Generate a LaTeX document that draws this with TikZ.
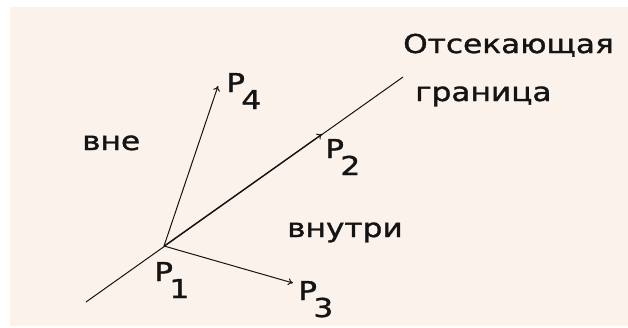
\documentclass[tikz,border=0pt]{standalone}
\usepackage{fontspec}
\setmainfont{DejaVu Sans}
\newfontfamily\lblfont{DejaVu Sans}[FakeBold=1.2]
\usetikzlibrary{arrows.meta}
\definecolor{bgpink}{RGB}{252,242,236}
\definecolor{ink}{RGB}{20,20,20}
\newcommand{\wide}[1]{\scalebox{1.2}[1]{#1}}
\newcommand{\pt}[1]{\wide{P\kern-3pt\raisebox{-17pt}{#1}}}
\tikzset{
  lbl/.style={inner sep=0pt, anchor=base west, text=ink, font=\lblfont\fontsize{26}{30}\selectfont},
  edge/.style={draw=ink, line width=1pt},
  arr/.style={edge, -{To[length=5pt,width=7pt]}}
}
\begin{document}
\begin{tikzpicture}[x=1pt,y=-1pt]
\useasboundingbox (0,0) rectangle (628,327);
\fill[white] (0,0) rectangle (628,327);
\fill[bgpink] (10,7) rectangle (628,326);
\coordinate (A) at (86,302);
\coordinate (B) at (403,77);
\coordinate (p1) at (164,246);
\coordinate (p2) at (322,134);
\coordinate (p3) at (293,283);
\coordinate (p4) at (218,86);
\draw[edge] (A) -- (B);
\draw[arr] (p1) -- (p4);
\draw[arr] (p1) -- (p2);
\draw[arr] (p1) -- (p3);
\node[lbl] (t1) at (403,53) {\wide{Отсекающая}};
\node[lbl] (t2) at (415,101) {\wide{граница}};
\node[lbl] (out) at (82,150) {\wide{вне}};
\node[lbl] (in) at (287,237) {\wide{внутри}};
\node[lbl] (l4) at (226,92) {\pt{4}};
\node[lbl] (l2) at (325,158) {\pt{2}};
\node[lbl] (l1) at (154,281) {\pt{1}};
\node[lbl] (l3) at (298,300) {\pt{3}};
\end{tikzpicture}
\end{document}
